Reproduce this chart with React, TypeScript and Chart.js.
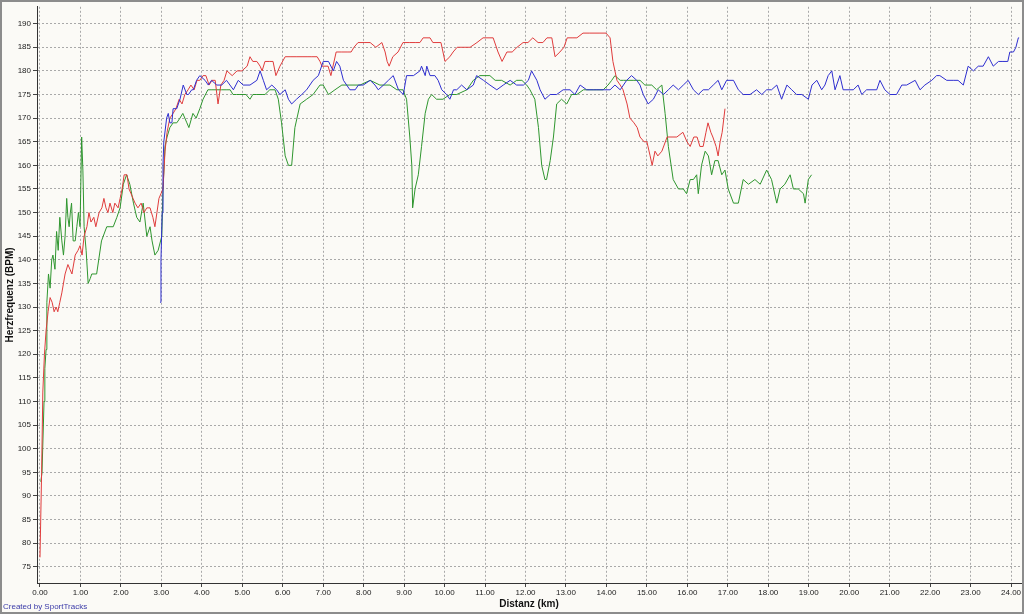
import React, { useEffect, useRef } from "react";
import { Chart, registerables } from "chart.js";

Chart.register(...registerables);

// ---- Data (distance in km, heart rate in BPM) ----
const redKm = [
  0.0, 0.04, 0.07, 0.11, 0.15, 0.2, 0.25, 0.3, 0.35, 0.4, 0.44, 0.49, 0.54, 0.62, 0.69, 0.74, 0.79, 0.87, 0.94, 0.99,
  1.04, 1.09, 1.16, 1.21, 1.26, 1.33, 1.38, 1.46, 1.53, 1.58, 1.63, 1.68, 1.73, 1.8, 1.85, 1.93, 1.98, 2.03, 2.08, 2.15,
  2.2, 2.25, 2.3, 2.35, 2.42, 2.5, 2.57, 2.64, 2.72, 2.79, 2.84, 2.89, 2.94, 2.99, 3.04, 3.09, 3.14, 3.21, 3.29, 3.36,
  3.44, 3.51, 3.58, 3.66, 3.73, 3.81, 3.88, 3.95, 4.03, 4.1, 4.18, 4.25, 4.33, 4.4, 4.47, 4.55, 4.62, 4.75, 4.87, 4.99,
  5.12, 5.19, 5.26, 5.36, 5.44, 5.49, 5.56, 5.68, 5.76, 5.83, 5.93, 6.06, 6.18, 6.33, 6.5, 6.6, 6.72, 6.85, 6.92, 6.97,
  7.12, 7.19, 7.32, 7.46, 7.59, 7.69, 7.76, 7.86, 8.01, 8.16, 8.3, 8.45, 8.53, 8.58, 8.63, 8.72, 8.85, 8.97, 9.14, 9.29,
  9.39, 9.47, 9.64, 9.71, 9.91, 9.96, 10.01, 10.13, 10.21, 10.31, 10.45, 10.63, 10.8, 10.95, 11.2, 11.32, 11.42, 11.54, 11.67, 11.79,
  11.94, 12.06, 12.18, 12.31, 12.43, 12.53, 12.65, 12.73, 12.85, 12.95, 13.03, 13.15, 13.27, 13.42, 13.59, 13.84, 13.99, 14.09, 14.16, 14.26,
  14.34, 14.41, 14.51, 14.58, 14.68, 14.76, 14.83, 14.93, 15.0, 15.08, 15.13, 15.2, 15.27, 15.37, 15.5, 15.62, 15.74, 15.89, 15.99, 16.07,
  16.16, 16.24, 16.31, 16.39, 16.46, 16.51, 16.58, 16.63, 16.71, 16.76, 16.81, 16.86, 16.93,
];
const redBpm = [
  77, 95, 112, 120, 125, 129, 132, 131, 129, 130, 129, 131, 133, 137, 139, 138, 137, 141, 142, 143,
  141, 145, 147, 150, 148, 149, 147, 150, 151, 153, 151, 150, 152, 150, 152, 151, 153, 155, 158, 158,
  155, 154, 153, 152, 151, 152, 150, 151, 151, 149, 147, 150, 153, 154, 155, 163, 167, 170, 171, 172,
  174, 173, 175, 176, 177, 176, 178, 178, 179, 179, 177, 178, 178, 173, 177, 178, 180, 179, 180, 180,
  181, 183, 182, 182, 181, 180, 182, 182, 182, 179, 181, 183, 183, 183, 183, 183, 183, 183, 182, 181,
  181, 179, 184, 184, 184, 184, 185, 186, 186, 186, 185, 186, 184, 182, 181, 183, 184, 186, 186, 186,
  186, 187, 187, 186, 186, 184, 182, 183, 184, 185, 185, 185, 186, 187, 187, 184, 182, 184, 184, 185,
  186, 186, 187, 186, 186, 187, 187, 183, 184, 185, 187, 187, 187, 188, 188, 188, 188, 187, 182, 178,
  177, 176, 173, 170, 169, 168, 166, 165, 165, 162, 160, 163, 162, 163, 166, 166, 166, 167, 165, 164,
  166, 166, 164, 164, 167, 169, 167, 166, 164, 162, 165, 167, 172,
];

const greenKm = [
  0.02, 0.05, 0.07, 0.1, 0.12, 0.15, 0.17, 0.21, 0.25, 0.29, 0.32, 0.37, 0.41, 0.45, 0.49, 0.54, 0.58, 0.62, 0.66, 0.69,
  0.72, 0.75, 0.78, 0.82, 0.87, 0.91, 0.95, 0.99, 1.03, 1.06, 1.09, 1.14, 1.19, 1.24, 1.28, 1.4, 1.52, 1.65, 1.73, 1.81,
  1.9, 1.98, 2.06, 2.14, 2.22, 2.31, 2.39, 2.47, 2.55, 2.64, 2.72, 2.77, 2.84, 2.92, 3.01, 3.04, 3.09, 3.14, 3.21, 3.29,
  3.38, 3.46, 3.53, 3.63, 3.68, 3.78, 3.86, 3.95, 4.03, 4.15, 4.25, 4.37, 4.49, 4.6, 4.7, 4.77, 4.86, 4.94, 5.02, 5.09,
  5.19, 5.26, 5.36, 5.49, 5.56, 5.68, 5.81, 5.89, 5.97, 6.06, 6.14, 6.22, 6.3, 6.43, 6.59, 6.75, 6.92, 7.0, 7.13, 7.29,
  7.46, 7.66, 7.91, 8.16, 8.4, 8.65, 8.82, 8.97, 9.06, 9.14, 9.19, 9.21, 9.27, 9.35, 9.43, 9.52, 9.6, 9.68, 9.8, 9.96,
  10.13, 10.3, 10.55, 10.71, 10.87, 11.12, 11.25, 11.41, 11.62, 11.78, 11.91, 12.03, 12.11, 12.23, 12.32, 12.4, 12.48, 12.52, 12.61, 12.69,
  12.77, 12.89, 13.02, 13.14, 13.27, 13.43, 13.59, 13.76, 13.92, 14.04, 14.13, 14.21, 14.34, 14.42, 14.66, 14.83, 14.95, 15.12, 15.24, 15.37,
  15.45, 15.53, 15.65, 15.78, 15.9, 15.98, 16.07, 16.15, 16.23, 16.27, 16.35, 16.44, 16.52, 16.6, 16.68, 16.76, 16.85, 16.93, 17.01, 17.14,
  17.26, 17.38, 17.51, 17.67, 17.8, 17.96, 18.08, 18.21, 18.29, 18.41, 18.54, 18.62, 18.74, 18.87, 18.91, 18.99, 19.07,
];
const greenBpm = [
  93, 95, 95, 110, 117, 121, 131, 137, 134, 140, 141, 138, 146, 142, 149, 144, 141, 145, 153, 149,
  147, 150, 152, 144, 144, 147, 150, 147, 166, 159, 147, 142, 135, 136, 137, 137, 144, 147, 147, 147,
  149, 151, 156, 158, 156, 152, 149, 148, 152, 145, 147, 144, 141, 142, 145, 155, 164, 166, 168, 169,
  169, 170, 171, 169, 168, 171, 170, 172, 174, 176, 176, 176, 176, 176, 176, 175, 175, 175, 175, 175,
  174, 175, 175, 175, 175, 176, 176, 174, 169, 162, 160, 160, 168, 173, 174, 175, 177, 177, 175, 176,
  177, 177, 177, 178, 177, 177, 176, 176, 174, 166, 160, 151, 155, 158, 164, 171, 174, 175, 174, 174,
  175, 175, 176, 178, 179, 179, 178, 178, 177, 178, 178, 177, 176, 174, 168, 160, 157, 157, 161, 166,
  173, 174, 173, 175, 175, 176, 176, 176, 176, 177, 178, 179, 178, 178, 178, 178, 177, 177, 176, 177,
  171, 164, 157, 155, 155, 154, 157, 157, 158, 154, 160, 163, 162, 158, 161, 161, 158, 159, 155, 152,
  152, 157, 156, 157, 156, 159, 157, 152, 155, 156, 158, 155, 155, 154, 152, 157, 158,
];

const blueKm = [
  2.97, 2.99, 3.02, 3.04, 3.06, 3.13, 3.17, 3.21, 3.26, 3.29, 3.38, 3.42, 3.46, 3.54, 3.63, 3.67, 3.75, 3.79, 3.87, 3.95,
  4.08, 4.16, 4.24, 4.37, 4.49, 4.61, 4.78, 4.9, 5.02, 5.19, 5.36, 5.44, 5.52, 5.6, 5.73, 5.85, 5.93, 6.06, 6.14, 6.22,
  6.34, 6.47, 6.59, 6.75, 6.88, 7.0, 7.13, 7.25, 7.33, 7.41, 7.5, 7.58, 7.66, 7.79, 7.87, 7.99, 8.16, 8.28, 8.36, 8.49,
  8.61, 8.73, 8.86, 8.98, 9.06, 9.23, 9.39, 9.43, 9.52, 9.56, 9.64, 9.76, 9.84, 9.93, 10.05, 10.13, 10.22, 10.3, 10.42, 10.55,
  10.71, 10.79, 10.96, 11.12, 11.29, 11.45, 11.62, 11.78, 11.95, 12.07, 12.15, 12.28, 12.36, 12.48, 12.61, 12.77, 12.93, 13.1, 13.22, 13.35,
  13.51, 13.68, 13.84, 13.96, 14.09, 14.21, 14.34, 14.5, 14.62, 14.75, 14.83, 14.91, 15.03, 15.16, 15.28, 15.41, 15.53, 15.65, 15.78, 15.9,
  16.02, 16.15, 16.27, 16.39, 16.52, 16.64, 16.76, 16.85, 16.97, 17.14, 17.26, 17.38, 17.55, 17.71, 17.84, 17.96, 18.08, 18.21, 18.33, 18.46,
  18.58, 18.7, 18.83, 18.99, 19.08, 19.2, 19.32, 19.4, 19.48, 19.57, 19.65, 19.77, 19.85, 20.1, 20.22, 20.31, 20.43, 20.68, 20.76, 20.88,
  21.01, 21.17, 21.3, 21.42, 21.63, 21.75, 21.87, 22.04, 22.16, 22.24, 22.41, 22.57, 22.69, 22.82, 22.94, 23.07, 23.19, 23.31, 23.44, 23.56,
  23.69, 23.8, 23.92, 23.97, 24.06, 24.12, 24.18, 24.2,
];
const blueBpm = [
  131, 140, 150, 160, 165, 170, 171, 169, 169, 172, 172, 173, 174, 177, 175, 175, 176, 176, 178, 179,
  178, 177, 178, 177, 177, 178, 176, 178, 177, 177, 178, 180, 178, 176, 177, 176, 175, 176, 174, 173,
  174, 175, 176, 178, 179, 182, 182, 180, 182, 181, 178, 177, 176, 176, 177, 177, 178, 177, 176, 177,
  178, 179, 176, 175, 179, 179, 180, 181, 179, 181, 179, 179, 178, 176, 175, 174, 176, 176, 177, 176,
  177, 179, 178, 177, 176, 177, 178, 177, 177, 178, 180, 178, 176, 174, 175, 175, 176, 176, 175, 177,
  176, 176, 176, 176, 176, 177, 176, 178, 179, 178, 177, 175, 173, 174, 176, 175, 176, 177, 176, 177,
  178, 176, 175, 176, 176, 177, 178, 176, 178, 178, 176, 175, 175, 176, 175, 176, 176, 177, 174, 177,
  176, 175, 175, 174, 177, 178, 176, 177, 179, 180, 176, 179, 176, 176, 177, 175, 176, 176, 178, 176,
  175, 175, 177, 177, 178, 176, 177, 178, 179, 179, 178, 178, 178, 177, 181, 180, 181, 181, 183, 181,
  182, 182, 182, 184, 184, 185, 187, 187,
];

const xTicks = [0, 1, 2, 3, 4, 5, 6, 7, 8, 9, 10, 11, 12, 13, 14, 15, 16, 17, 18, 19, 20, 21, 22, 23, 24];
const yTicks = [75, 80, 85, 90, 95, 100, 105, 110, 115, 120, 125, 130, 135, 140, 145, 150, 155, 160, 165, 170, 175, 180, 185, 190];

const xLabel = "Distanz (km)";
const yLabel = "Herzfrequenz (BPM)";
const credit = "Created by SportTracks";

const BG = "#FBFAF6";
const FONT = "'Liberation Sans', Arial, sans-serif";

export default function App() {
  const ref = useRef<HTMLCanvasElement>(null);

  useEffect(() => {
    if (!ref.current) return;
    const toPts = (xs: number[], ys: number[]) => xs.map((x, i) => ({ x, y: ys[i] }));

    const framePlugin = {
      id: "frame",
      beforeDraw(chart: any) {
        const { ctx, width, height } = chart;
        ctx.save();
        ctx.fillStyle = BG;
        ctx.fillRect(0, 0, width, height);
        ctx.restore();
      },
      afterDraw(chart: any) {
        const { ctx, width, height } = chart;
        ctx.save();
        ctx.strokeStyle = "#8c8c8c";
        ctx.lineWidth = 2;
        ctx.strokeRect(1, 1, width - 2, height - 2);
        ctx.fillStyle = "#3a3aa8";
        ctx.font = `8px ${FONT}`;
        ctx.textBaseline = "middle";
        ctx.textAlign = "left";
        ctx.fillText(credit, 3, 607);
        ctx.restore();
      },
    };

    const chart = new Chart(ref.current, {
      type: "line",
      data: {
        datasets: [
          { label: "blue", data: toPts(blueKm, blueBpm), borderColor: "#2f2fd0", borderWidth: 1, pointRadius: 0, fill: false },
          { label: "red", data: toPts(redKm, redBpm), borderColor: "#e03c3c", borderWidth: 1, pointRadius: 0, fill: false },
          { label: "green", data: toPts(greenKm, greenBpm), borderColor: "#2f962f", borderWidth: 1, pointRadius: 0, fill: false },
        ],
      },
      options: {
        animation: false,
        responsive: false,
        events: [],
        layout: { padding: { left: 0, top: 3, right: 3, bottom: 0 } },
        plugins: { legend: { display: false }, tooltip: { enabled: false } },
        elements: { line: { tension: 0 } },
        scales: {
          x: {
            type: "linear",
            min: -0.074,
            max: 24.246,
            afterBuildTicks: (s: any) => {
              s.ticks = xTicks.map((v) => ({ value: v }));
            },
            afterFit: (s: any) => {
              s.height = 31;
            },
            ticks: {
              autoSkip: false,
              maxRotation: 0,
              color: "#222",
              padding: 1,
              font: { family: FONT, size: 8 },
              callback: (v: any) => Number(v).toFixed(2),
            },
            grid: { color: "#a9a9a9", lineWidth: 1, tickLength: 4, tickColor: "#444" },
            border: { display: true, color: "#333", width: 1, dash: [2, 2] },
            title: {
              display: true,
              text: xLabel,
              color: "#111",
              font: { family: FONT, size: 10, weight: "bold" },
              padding: { top: 0, bottom: 4 },
            },
          },
          y: {
            type: "linear",
            min: 71.57,
            max: 193.57,
            afterBuildTicks: (s: any) => {
              s.ticks = yTicks.map((v) => ({ value: v }));
            },
            afterFit: (s: any) => {
              s.width = 37;
            },
            ticks: {
              autoSkip: false,
              color: "#222",
              padding: 2,
              font: { family: FONT, size: 8 },
              callback: (v: any) => String(v),
            },
            grid: { color: "#a9a9a9", lineWidth: 1, tickLength: 4, tickColor: "#444" },
            border: { display: true, color: "#333", width: 1, dash: [2, 2] },
            title: {
              display: true,
              text: yLabel,
              color: "#111",
              font: { family: FONT, size: 10, weight: "bold" },
              padding: { top: 4, bottom: 0 },
            },
          },
        },
      },
      plugins: [framePlugin],
    } as any);

    return () => chart.destroy();
  }, []);

  return (
    <div style={{ position: "fixed", left: 0, top: 0, width: 1024, height: 614, background: BG }}>
      <canvas ref={ref} width={1024} height={614} style={{ display: "block", width: 1024, height: 614 }} />
    </div>
  );
}
